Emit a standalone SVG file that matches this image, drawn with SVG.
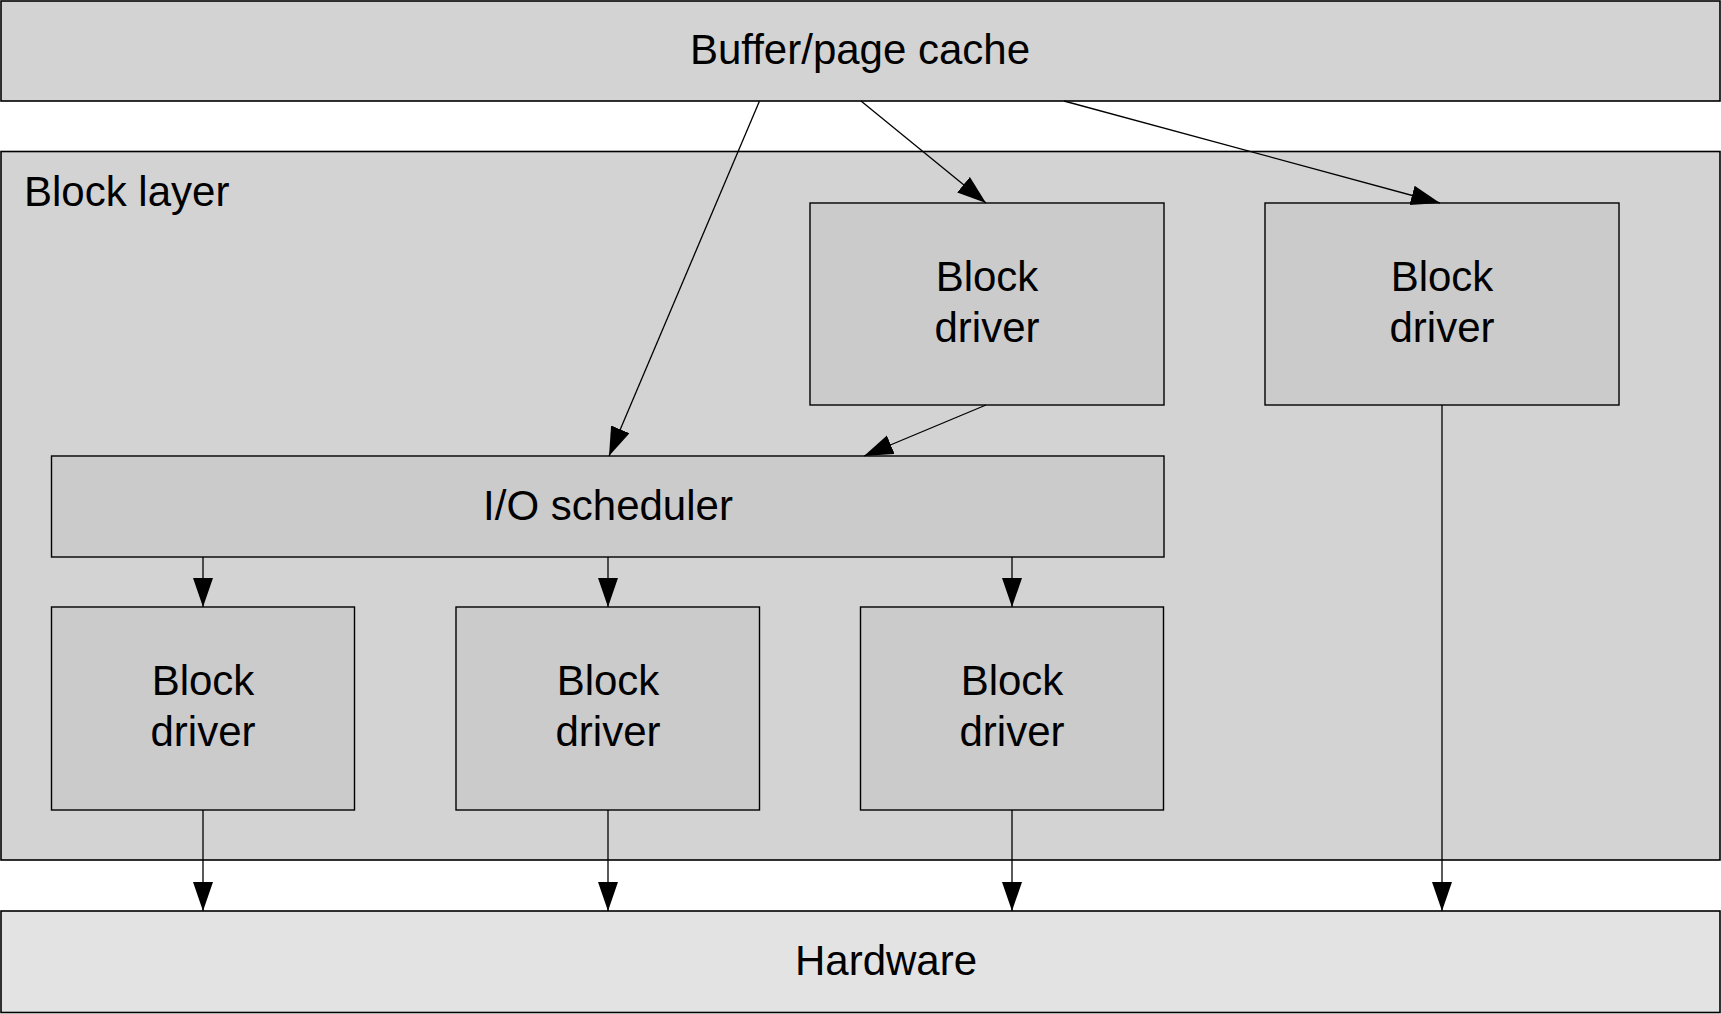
<svg xmlns="http://www.w3.org/2000/svg" width="1721" height="1014" viewBox="0 0 1721 1014">
<defs>
<style>
text{font-family:"Liberation Sans",Arial,sans-serif;font-size:42px;fill:#000;}
.c{text-anchor:middle;}
.outer{fill:#d3d3d3;stroke:#000;stroke-width:1.6;}
.hw{fill:#e3e3e3;stroke:#000;stroke-width:1.6;}
.inner{fill:#cbcbcb;stroke:#000;stroke-width:1.4;}
.edge{stroke:#000;stroke-width:1.3;fill:none;marker-end:url(#arr);}
</style>
<marker id="arr" markerUnits="userSpaceOnUse" markerWidth="30" markerHeight="21" refX="29" refY="10" orient="auto">
<path d="M0,0 L29,10 L0,20 z" fill="#000"/>
</marker>
</defs>
<rect width="1721" height="1014" fill="#fff"/>
<g id="buffer-cache">
<rect class="outer" x="1" y="1" width="1719" height="100"/>
<text class="c" x="860" y="64">Buffer/page cache</text>
</g>
<g id="block-layer">
<rect class="outer" x="1" y="151.5" width="1719" height="708.5"/>
<text x="24" y="206">Block layer</text>
</g>
<g id="hardware">
<rect class="hw" x="1" y="911" width="1719" height="101.5"/>
<text class="c" x="886" y="975">Hardware</text>
</g>
<g id="block-driver-top-mid">
<rect class="inner" x="810" y="203" width="354" height="202"/>
<text class="c" x="987" y="291">Block</text>
<text class="c" x="987" y="342">driver</text>
</g>
<g id="block-driver-top-right">
<rect class="inner" x="1265" y="203" width="354" height="202"/>
<text class="c" x="1442" y="291">Block</text>
<text class="c" x="1442" y="342">driver</text>
</g>
<g id="io-scheduler">
<rect class="inner" x="51.5" y="456" width="1112.5" height="101"/>
<text class="c" x="608" y="520">I/O scheduler</text>
</g>
<g id="block-driver-1">
<rect class="inner" x="51.5" y="607" width="303" height="203"/>
<text class="c" x="203" y="695">Block</text>
<text class="c" x="203" y="746">driver</text>
</g>
<g id="block-driver-2">
<rect class="inner" x="456" y="607" width="303.5" height="203"/>
<text class="c" x="608" y="695">Block</text>
<text class="c" x="608" y="746">driver</text>
</g>
<g id="block-driver-3">
<rect class="inner" x="860.5" y="607" width="303" height="203"/>
<text class="c" x="1012" y="695">Block</text>
<text class="c" x="1012" y="746">driver</text>
</g>
<g id="connectors">
<line class="edge" x1="759.5" y1="101" x2="609" y2="456"/>
<line class="edge" x1="861" y1="101" x2="986" y2="203"/>
<line class="edge" x1="1064" y1="101" x2="1440" y2="203"/>
<line class="edge" x1="986" y1="405" x2="864" y2="456"/>
<line class="edge" x1="203" y1="557" x2="203" y2="607"/>
<line class="edge" x1="608" y1="557" x2="608" y2="607"/>
<line class="edge" x1="1012" y1="557" x2="1012" y2="607"/>
<line class="edge" x1="203" y1="810" x2="203" y2="911"/>
<line class="edge" x1="608" y1="810" x2="608" y2="911"/>
<line class="edge" x1="1012" y1="810" x2="1012" y2="911"/>
<line class="edge" x1="1442" y1="405" x2="1442" y2="911"/>
</g>
</svg>
